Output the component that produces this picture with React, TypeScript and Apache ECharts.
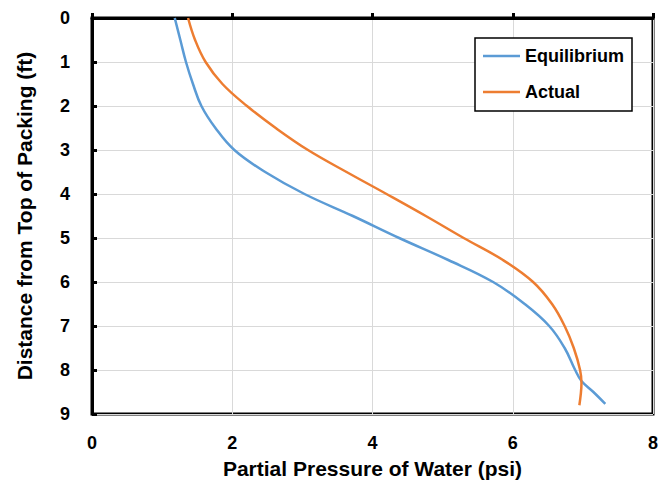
import React, { useEffect, useRef } from "react";
import * as echarts from "echarts";

const xTicks = [0, 2, 4, 6, 8];
const yTicks = [0, 1, 2, 3, 4, 5, 6, 7, 8, 9];

const eqDepth = [0, 0.5, 1.0, 1.5, 2.0, 2.5, 3.0, 3.5, 4.0, 4.5, 5.0, 5.5, 6.0, 6.5, 7.0, 7.5, 8.0, 8.25, 8.5, 8.77];
const eqPressure = [1.18, 1.26, 1.34, 1.44, 1.56, 1.76, 2.03, 2.47, 3.03, 3.72, 4.38, 5.08, 5.72, 6.17, 6.52, 6.74, 6.89, 6.98, 7.15, 7.32];

const actDepth = [0, 0.5, 1.0, 1.5, 2.0, 2.5, 3.0, 3.5, 4.0, 4.5, 5.0, 5.5, 6.0, 6.5, 7.0, 7.5, 8.0, 8.3, 8.55, 8.8];
const actPressure = [1.37, 1.47, 1.62, 1.86, 2.21, 2.62, 3.08, 3.63, 4.2, 4.76, 5.3, 5.86, 6.29, 6.56, 6.74, 6.87, 6.96, 6.98, 6.97, 6.95];

const FONT = "'Liberation Sans Narrow', 'Arial Narrow', 'Liberation Sans', Arial, sans-serif";

export default function App() {
  const ref = useRef<HTMLDivElement>(null);
  useEffect(() => {
    if (!ref.current) return;
    const chart = echarts.init(ref.current, undefined, { renderer: "svg" });
    const eqData = eqDepth.map((d, i) => [eqPressure[i], d]);
    const actData = actDepth.map((d, i) => [actPressure[i], d]);
    chart.setOption({
      animation: false,
      backgroundColor: "#fff",
      grid: {
        left: 92,
        right: 15,
        top: 18,
        bottom: 73,
        show: true,
        borderColor: "#000",
        borderWidth: 3,
        containLabel: false,
      },
      legend: {
        orient: "vertical",
        left: 475,
        top: 38,
        backgroundColor: "#fff",
        borderColor: "#000",
        borderWidth: 1.5,
        borderRadius: 0,
        padding: [9, 8, 10, 8],
        icon: "rect",
        itemWidth: 37,
        itemHeight: 2.5,
        itemGap: 18,
        textStyle: { fontFamily: FONT, fontSize: 18, fontWeight: "bold", color: "#000", lineHeight: 18 },
        data: ["Equilibrium", "Actual"],
      },
      xAxis: {
        type: "value",
        min: xTicks[0],
        max: xTicks[xTicks.length - 1],
        interval: 2,
        name: "Partial Pressure of Water (psi)",
        nameLocation: "middle",
        nameGap: 44,
        nameTextStyle: { fontFamily: FONT, fontSize: 21, fontWeight: "bold", color: "#000" },
        axisLine: { show: true, lineStyle: { color: "#000", width: 3 } },
        axisTick: { show: true, inside: true, length: 5, lineStyle: { color: "#000", width: 3 } },
        axisLabel: { fontFamily: FONT, fontSize: 18, fontWeight: "bold", color: "#000", margin: 20 },
        splitLine: { show: true, lineStyle: { color: "#D9D9D9", width: 1 } },
      },
      yAxis: {
        type: "value",
        inverse: true,
        min: yTicks[0],
        max: yTicks[yTicks.length - 1],
        interval: 1,
        name: "Distance from Top of Packing (ft)",
        nameLocation: "middle",
        nameGap: 57,
        nameTextStyle: { fontFamily: FONT, fontSize: 21, fontWeight: "bold", color: "#000" },
        axisLine: { show: true, lineStyle: { color: "#000", width: 3 } },
        axisTick: { show: true, inside: true, length: 5, lineStyle: { color: "#000", width: 3 } },
        axisLabel: { fontFamily: FONT, fontSize: 18, fontWeight: "bold", color: "#000", margin: 22 },
        splitLine: { show: true, lineStyle: { color: "#D9D9D9", width: 1 } },
      },
      series: [
        {
          name: "Equilibrium",
          type: "line",
          data: eqData,
          smooth: 0.4,
          symbol: "none",
          lineStyle: { color: "#5B9BD5", width: 2.5 },
          itemStyle: { color: "#5B9BD5" },
        },
        {
          name: "Actual",
          type: "line",
          data: actData,
          smooth: 0.4,
          symbol: "none",
          lineStyle: { color: "#ED7D31", width: 2.5 },
          itemStyle: { color: "#ED7D31" },
        },
      ],
    });
    return () => chart.dispose();
  }, []);
  return (
    <div
      ref={ref}
      style={{ position: "fixed", left: 0, top: 0, width: 668, height: 487 }}
    />
  );
}
